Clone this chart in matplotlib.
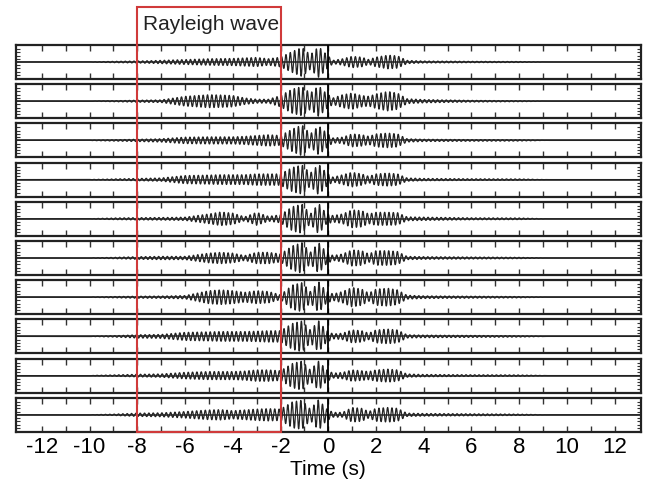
import numpy as np
import matplotlib
matplotlib.use("Agg")
import matplotlib.pyplot as plt
from matplotlib.patches import Rectangle
from matplotlib import transforms

plt.rcParams['font.family'] = ['Liberation Sans', 'DejaVu Sans']

# ---- data ----
# envelope knots (s) shared by all traces
env_times = [-10.2, -9, -8, -7, -6, -5, -4.5, -4, -3.5, -3, -2.5, -2, -1.5, -1.1, -0.75,
             -0.4, -0.1, 0.2, 0.6, 1.0, 1.4, 1.7, 2.0, 2.5, 2.9, 3.3, 4, 6, 8, 9.2]
# envelope amplitudes (fraction of panel half-height), one list per trace, top to bottom
env_1 = [0, .04, .06, .10, .15, .20, .21, .22, .25, .28, .20, .30, .65, .90, .45, .95, .50, .10, .20, .35, .30, .15, .30, .42, .38, .10, .06, .04, .03, 0]
env_2 = [0, .03, .06, .08, .30, .40, .38, .35, .20, .12, .12, .35, .75, .90, .50, .95, .50, .20, .40, .50, .35, .30, .45, .60, .50, .15, .10, .05, .03, 0]
env_3 = [0, .04, .07, .10, .20, .22, .22, .22, .25, .30, .35, .30, .70, .95, .40, .90, .50, .15, .20, .40, .35, .25, .40, .45, .40, .10, .07, .05, .04, 0]
env_4 = [0, .04, .07, .10, .25, .28, .30, .30, .30, .35, .35, .35, .75, .90, .40, .95, .45, .15, .30, .45, .35, .20, .35, .40, .35, .10, .07, .05, .04, 0]
env_5 = [0, .05, .07, .08, .10, .30, .42, .35, .12, .40, .15, .25, .75, .90, .30, .95, .35, .20, .30, .55, .50, .30, .40, .40, .38, .12, .10, .06, .05, 0]
env_6 = [0, .04, .08, .10, .10, .30, .35, .30, .15, .35, .35, .25, .75, .95, .35, .95, .40, .15, .25, .50, .45, .25, .45, .45, .40, .10, .08, .06, .04, 0]
env_7 = [0, .04, .06, .07, .10, .40, .45, .40, .30, .40, .35, .15, .75, .90, .35, .95, .40, .20, .35, .60, .50, .25, .50, .55, .45, .12, .08, .06, .04, 0]
env_8 = [0, .04, .10, .12, .25, .28, .30, .30, .30, .32, .35, .35, .80, .95, .40, .95, .40, .15, .20, .40, .35, .20, .40, .45, .40, .10, .08, .06, .04, 0]
env_9 = [0, .04, .08, .10, .20, .25, .25, .25, .28, .35, .35, .30, .75, .90, .35, .90, .40, .15, .20, .35, .30, .25, .35, .40, .35, .10, .07, .05, .04, 0]
env_10 = [0, .04, .10, .12, .20, .30, .32, .25, .30, .35, .38, .35, .80, .90, .35, .95, .40, .15, .15, .45, .40, .20, .40, .45, .40, .10, .08, .06, .04, 0]
envelopes = [env_1, env_2, env_3, env_4, env_5, env_6, env_7, env_8, env_9, env_10]
carrier_hz = 5.5          # dominant period read from the wiggles
x_ticks = list(range(-12, 13, 1))
x_ticklabels = [str(v) if v % 2 == 0 else '' for v in x_ticks]
box_start, box_end = -8, -2
box_label = "Rayleigh wave"
xlabel = "Time (s)"

# ---- figure ----
W, H = 651, 482
fig = plt.figure(figsize=(W / 100, H / 100), dpi=100)
left_px, right_px = 15.5, 641
top0, pitch, ph = 45, 39.2, 34
t = np.arange(-13.1, 13.1, 0.002)
axes = []
for i, env in enumerate(envelopes):
    top = top0 + i * pitch
    ax = fig.add_axes([left_px / W, 1 - (top + ph) / H, (right_px - left_px) / W, ph / H])
    amp = np.interp(t, env_times, env, left=0, right=0)
    y = amp * np.sin(2 * np.pi * carrier_hz * t + 0.4 * i)
    ax.axhline(0, color='#333333', lw=1.2, zorder=1)
    ax.plot(t, y, color='#222222', lw=0.9, zorder=2)
    ax.axvline(0, color='black', lw=1.3, zorder=3)
    ax.set_xlim(-13.1, 13.1)
    ax.set_ylim(-1.05, 1.05)
    ax.set_xticks(x_ticks)
    ax.set_yticks([-0.8, -0.6, -0.4, -0.2, 0.2, 0.4, 0.6, 0.8])
    ax.set_yticklabels([])
    ax.tick_params(axis='x', direction='in', top=True, bottom=True, length=4.5, width=1, color='#333333')
    ax.tick_params(axis='y', direction='in', left=True, right=True, length=3, width=0.8, color='#333333')
    for s in ax.spines.values():
        s.set_linewidth(1.6)
        s.set_color('#222222')
    if i < len(envelopes) - 1:
        ax.set_xticklabels([])
    else:
        ax.set_xticklabels(x_ticklabels, fontsize=16)
        ax.tick_params(axis='x', pad=4)
        ax.set_xlabel(xlabel, fontsize=15, labelpad=1)
    axes.append(ax)

# red box across all panels
bot_ax = axes[-1]
tr = transforms.blended_transform_factory(bot_ax.transData, fig.transFigure)
box_top = 1 - 7 / H
box_bot = 1 - (top0 + 9 * pitch + ph) / H
rect = Rectangle((box_start, box_bot), box_end - box_start, box_top - box_bot,
                 transform=tr, fill=False, edgecolor='#d03a3a', lw=1.5, zorder=10, clip_on=False)
fig.patches.append(rect)
fig.text(box_start + 0.22, 1 - 24 / H, box_label, transform=tr, fontsize=15,
         ha='left', va='center', color='#222222')

fig.savefig('out.png', dpi=100)
